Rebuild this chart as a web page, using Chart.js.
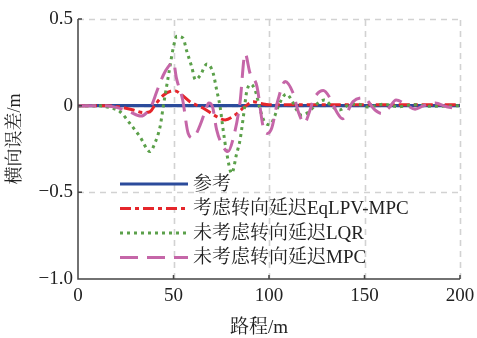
<!DOCTYPE html>
<html>
<head>
<meta charset="utf-8">
<script src="https://cdn.jsdelivr.net/npm/chart.js@4.4.1/dist/chart.umd.min.js"></script>
<style>
  html, body { margin: 0; padding: 0; background: #fff; }
  #wrap { width: 477px; height: 338px; }
</style>
</head>
<body>
<div id="wrap"><canvas id="c"></canvas></div>
<script>
// series names (legend order)
const seriesNames = ['参考', '考虑转向延迟EqLPV-MPC', '未考虑转向延迟LQR', '未考虑转向延迟MPC'];
const xTitle = '路程/m';
const yTitle = '横向误差/m';

// reference line
const refX = [0, 200];
const refY = [0, 0];

// EqLPV-MPC with steering delay
const eqX = [0, 15, 22, 29, 34.2, 37.7, 40.3, 44.7, 48.5, 51, 53.4, 58.6, 65.6, 72.6, 77, 82.2, 87.4, 91.8, 96, 100, 110, 120, 135, 150, 170, 200];
const eqY = [0, 0, -0.008, -0.025, -0.04, -0.035, 0.004, 0.06, 0.083, 0.085, 0.07, 0.023, -0.015, -0.063, -0.082, -0.054, -0.005, 0.023, 0.012, 0.005, 0.006, 0.005, 0.006, 0.006, 0.005, 0.005];

// LQR, no delay
const lqrX = [0, 10, 16, 22, 27, 32.5, 37.7, 40.3, 43, 44.7, 47.3, 50, 51.7, 55, 56.8, 59.5, 61.5, 64, 67.5, 70.7, 72.6, 74.3, 76, 77.8, 80.5, 83, 84.8, 86.5, 87.3, 88.3, 90.5, 93, 95.3, 97.5, 100.5, 103, 105, 109, 112, 114.5, 117, 121, 124, 129, 133, 137, 141, 146, 152, 160, 168, 176, 185, 200];
const lqrY = [0, 0, -0.01, -0.035, -0.1, -0.18, -0.265, -0.215, -0.12, 0, 0.17, 0.34, 0.4, 0.39, 0.32, 0.225, 0.15, 0.175, 0.24, 0.19, 0.09, 0, -0.14, -0.27, -0.39, -0.28, -0.2, -0.07, 0, 0.08, 0.123, 0.08, -0.02, -0.09, -0.11, -0.06, 0, 0.066, 0.03, -0.025, -0.055, -0.035, 0, 0.033, -0.005, -0.025, 0, 0.01, -0.008, 0.008, -0.006, 0.006, -0.004, 0];

// MPC, no delay
const mpcX = [0, 12, 20, 27, 33, 36, 38.5, 41.2, 44.7, 47.3, 50, 51.5, 54.8, 57.7, 60.2, 62.5, 64, 66.5, 68.5, 70.5, 72.6, 76, 78.5, 81, 84.8, 87.5, 90, 93.7, 96.9, 99, 101.4, 104.7, 108.5, 112.6, 115.5, 118.5, 121.5, 123.2, 128.4, 132, 135.4, 138.5, 144, 149.5, 155.5, 159, 163, 166.5, 172, 176.5, 181, 187, 193, 200];
const mpcY = [0, 0, -0.01, -0.035, -0.06, -0.04, 0, 0.08, 0.177, 0.225, 0.25, 0.16, 0.033, -0.16, -0.186, -0.15, -0.11, -0.036, 0.015, -0.01, -0.14, -0.237, -0.265, -0.2, 0.016, 0.3, 0.19, 0.11, -0.12, -0.16, -0.13, 0.033, 0.14, 0.073, -0.04, -0.1, -0.025, 0.033, 0.087, 0.043, -0.035, -0.075, 0.023, 0.045, -0.025, -0.045, -0.01, 0.033, 0.004, -0.02, 0, 0.015, -0.006, -0.02];

// axis ticks
const xTicks = [0, 50, 100, 150, 200];
const yTicks = [-1, -0.5, 0, 0.5];
const yTickLabels = ['−1.0', '−0.5', '0', '0.5'];

const serif = '"Liberation Serif", "Noto Serif CJK SC", "Noto Sans CJK SC", serif';

function pts(xs, ys) {
  return xs.map((x, i) => ({ x: x, y: ys[i] }));
}

// dashed grid, axis lines with inward ticks, titles and legend
const frame = {
  id: 'frame',
  beforeDatasetsDraw(chart) {
    const { ctx, chartArea: a, scales: { x, y } } = chart;
    ctx.save();
    ctx.strokeStyle = '#d2d2d2';
    ctx.lineWidth = 1.6;
    ctx.setLineDash([6, 5]);
    xTicks.slice(1).forEach(v => {
      const px = Math.round(x.getPixelForValue(v)) + 0.5;
      ctx.beginPath(); ctx.moveTo(px, a.bottom); ctx.lineTo(px, a.top); ctx.stroke();
    });
    yTicks.slice(1).forEach(v => {
      const py = Math.round(y.getPixelForValue(v)) + 0.5;
      ctx.beginPath(); ctx.moveTo(a.left, py); ctx.lineTo(a.right, py); ctx.stroke();
    });
    ctx.restore();
  },
  afterDatasetsDraw(chart) {
    const { ctx, chartArea: a, scales: { x, y } } = chart;
    ctx.save();
    ctx.strokeStyle = '#444';
    ctx.lineWidth = 1.5;
    ctx.setLineDash([]);
    ctx.beginPath();
    ctx.moveTo(a.left, a.top); ctx.lineTo(a.left, a.bottom); ctx.lineTo(a.right, a.bottom);
    xTicks.forEach(v => {
      const px = x.getPixelForValue(v);
      ctx.moveTo(px, a.bottom); ctx.lineTo(px, a.bottom - 4);
    });
    yTicks.forEach(v => {
      const py = y.getPixelForValue(v);
      ctx.moveTo(a.left, py); ctx.lineTo(a.left + 4, py);
    });
    ctx.stroke();

    // axis titles
    ctx.fillStyle = '#222';
    ctx.font = '19px ' + serif;
    ctx.textAlign = 'center';
    ctx.textBaseline = 'middle';
    ctx.fillText(xTitle, a.left + 181, 328);
    ctx.save();
    ctx.translate(15, a.top + 120);
    ctx.rotate(-Math.PI / 2);
    ctx.font = '18px ' + serif;
    ctx.fillText(yTitle, 0, 0);
    ctx.restore();

    // legend inside the plot
    const lx = a.left + 42, rowH = 24.5;
    let ly = 184;
    ctx.textAlign = 'left';
    chart.data.datasets.forEach(ds => {
      ctx.strokeStyle = ds.borderColor;
      ctx.lineWidth = ds.borderWidth;
      ctx.setLineDash(ds.borderDash || []);
      ctx.beginPath(); ctx.moveTo(lx, ly); ctx.lineTo(lx + 68, ly); ctx.stroke();
      ctx.fillText(ds.label, lx + 73, ly + 1);
      ly += rowH;
    });
    ctx.restore();
  }
};

new Chart(document.getElementById('c'), {
  type: 'line',
  data: {
    datasets: [
      { label: seriesNames[0], data: pts(refX, refY), borderColor: '#2B4B9B', borderWidth: 3.2, order: 4 },
      { label: seriesNames[1], data: pts(eqX, eqY), borderColor: '#E5262B', borderWidth: 3, borderDash: [11, 4, 4, 4], order: 3 },
      { label: seriesNames[2], data: pts(lqrX, lqrY), borderColor: '#5BA04A', borderWidth: 3, borderDash: [3, 4], order: 2 },
      { label: seriesNames[3], data: pts(mpcX, mpcY), borderColor: '#C566A8', borderWidth: 3, borderDash: [18, 9], order: 1 }
    ]
  },
  options: {
    responsive: true,
    maintainAspectRatio: false,
    animation: false,
    layout: { padding: { top: 19, right: 17, bottom: 0, left: 0 } },
    elements: {
      point: { radius: 0 },
      line: { cubicInterpolationMode: 'monotone', borderCapStyle: 'butt' }
    },
    plugins: { legend: { display: false }, tooltip: { enabled: false } },
    scales: {
      x: {
        type: 'linear', min: 0, max: 200,
        afterFit: s => { s.height = 59; s.paddingRight = 0; s.paddingLeft = 0; },
        afterBuildTicks: s => { s.ticks = xTicks.map(v => ({ value: v })); },
        grid: { display: false, drawTicks: false }, border: { display: false },
        ticks: { padding: 6, color: '#222', maxRotation: 0, font: { family: serif, size: 19 } }
      },
      y: {
        type: 'linear', min: -1, max: 0.5,
        afterFit: s => { s.width = 78; s.paddingTop = 0; s.paddingBottom = 0; },
        afterBuildTicks: s => { s.ticks = yTicks.map(v => ({ value: v })); },
        grid: { display: false, drawTicks: false }, border: { display: false },
        ticks: {
          padding: 5, color: '#222', font: { family: serif, size: 19 },
          callback: v => yTickLabels[yTicks.indexOf(v)]
        }
      }
    }
  },
  plugins: [frame]
});
</script>
</body>
</html>
